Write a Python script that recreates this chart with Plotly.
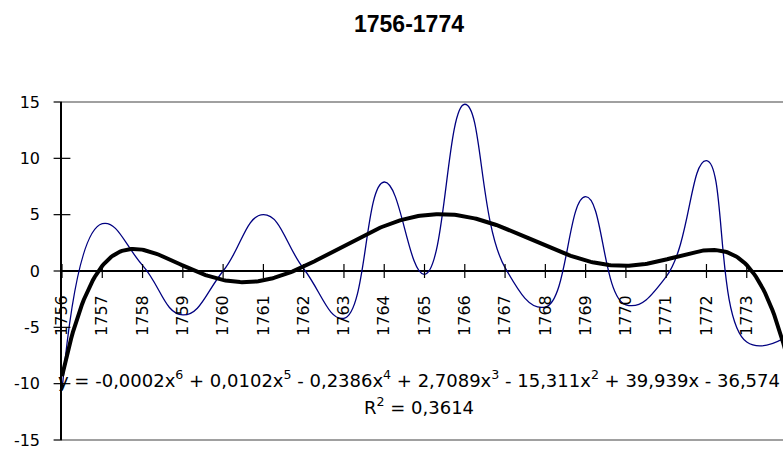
import numpy as np
import plotly.graph_objects as go

# ---- data ----
years = list(range(1756, 1775))
values = [-10.6, 4.2, 0.5, -3.9, 0.0, 5.0, 0.2, -4.2, 7.9, -0.3,
          14.8, 0.3, -3.2, 6.6, -3.0, -0.5, 9.8, -6.3, -5.8]
tick_labels = [str(y) for y in years]
y_ticks = [-15, -10, -5, 0, 5, 10, 15]
y_tick_labels = ["-15", "-10", "-5", "0", "5", "10", "15"]
title_text = "1756-1774"
eq_line1 = ("y = -0,0002x<sup>6</sup> + 0,0102x<sup>5</sup> - 0,2386x<sup>4</sup> + "
            "2,7089x<sup>3</sup> - 15,311x<sup>2</sup> + 39,939x - 36,574")
eq_line2 = "R<sup>2</sup> = 0,3614"

# polynomial (order 6) trendline fitted on category index 1..n, like the spreadsheet
idx = np.arange(1, len(values) + 1)
coef = np.polyfit(idx, values, 6)
idx_fine = np.linspace(1, len(values), 400)
trend = np.polyval(coef, idx_fine)
trend_years = years[0] + idx_fine - 1

x_range = [1756, 1773.9]
font = "DejaVu Sans"

fig = go.Figure()
fig.add_trace(go.Scatter(x=years, y=values, mode="lines",
                         line=dict(color="#000080", width=1.3, shape="spline", smoothing=1.3),
                         hoverinfo="skip", showlegend=False))
fig.add_trace(go.Scatter(x=trend_years, y=trend, mode="lines",
                         line=dict(color="black", width=4),
                         hoverinfo="skip", showlegend=False))
# cross tick marks on the category axis (which crosses at y = 0)
fig.add_trace(go.Scatter(x=years, y=[0] * len(years), mode="markers", cliponaxis=False,
                         marker=dict(symbol="line-ns", size=10, color="black",
                                     line=dict(color="black", width=1.2)),
                         hoverinfo="skip", showlegend=False))
# cross tick marks on the value axis
fig.add_trace(go.Scatter(x=[years[0]] * len(y_ticks), y=y_ticks, mode="markers", cliponaxis=False,
                         marker=dict(symbol="line-ew", size=12, color="black",
                                     line=dict(color="black", width=1.2)),
                         hoverinfo="skip", showlegend=False))

fig.update_layout(
    width=783, height=450,
    margin=dict(l=62, r=0, t=102, b=8),
    paper_bgcolor="white", plot_bgcolor="white",
    showlegend=False,
    title=dict(text="<b>%s</b>" % title_text, x=409 / 783, y=1 - 24 / 450,
               xanchor="center", yanchor="middle", xref="container", yref="container",
               font=dict(family="Liberation Sans", size=23, color="black")),
    xaxis=dict(range=x_range, anchor="free", position=0.5, showline=False,
               showgrid=False, zeroline=False,
               tickmode="array", tickvals=years, ticktext=tick_labels,
               ticks="", tickangle=-90, ticklabelstandoff=20,
               tickfont=dict(family=font, size=16, color="black")),
    yaxis=dict(range=[-15, 15], tickmode="array", tickvals=y_ticks, ticktext=y_tick_labels,
               showline=True, linecolor="black", linewidth=1.5,
               showgrid=False, zeroline=True, zerolinecolor="black", zerolinewidth=1.5,
               ticks="", ticklabelstandoff=17, ticklabeloverflow="allow",
               tickfont=dict(family=font, size=16, color="black")),
    shapes=[
        dict(type="line", xref="paper", yref="paper", x0=0, x1=1, y0=1, y1=1,
             line=dict(color="#a0a0a0", width=2), layer="above"),
        dict(type="line", xref="paper", yref="paper", x0=0, x1=1, y0=0, y1=0,
             line=dict(color="#a0a0a0", width=2), layer="above"),
    ],
)

x_eq = years[0] + (419 - 62) / (721 / (x_range[1] - x_range[0]))
fig.add_annotation(x=x_eq, y=-9.6, xref="x", yref="y", text=eq_line1, showarrow=False,
                   xanchor="center", yanchor="middle",
                   font=dict(family=font, size=18, color="black"))
fig.add_annotation(x=x_eq, y=-12.0, xref="x", yref="y", text=eq_line2, showarrow=False,
                   xanchor="center", yanchor="middle",
                   font=dict(family=font, size=18, color="black"))

fig.write_html("out.html")
